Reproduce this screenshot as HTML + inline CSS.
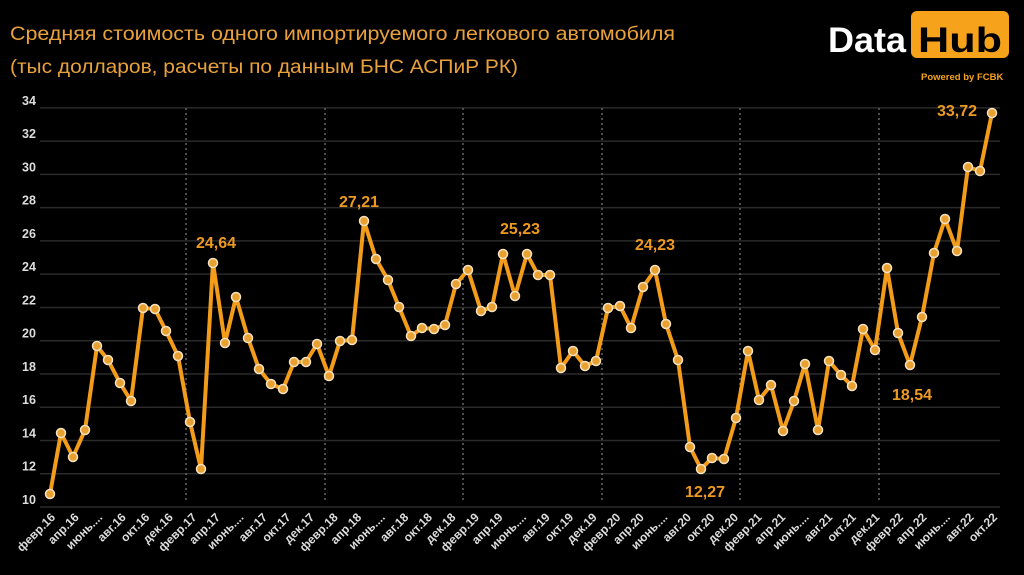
<!DOCTYPE html>
<html><head><meta charset="utf-8"><style>
body{margin:0;background:#000;width:1024px;height:570px;overflow:hidden;font-family:"Liberation Sans",sans-serif}
</style></head><body>
<svg width="1024" height="570" xmlns="http://www.w3.org/2000/svg" font-family="Liberation Sans, sans-serif">
<rect width="1024" height="570" fill="#000"/>
<text x="10" y="40" fill="#E9A23B" font-size="19.5" textLength="665" lengthAdjust="spacingAndGlyphs">Средняя стоимость одного импортируемого легкового автомобиля</text>
<text x="10" y="73" fill="#E9A23B" font-size="19.5" textLength="508" lengthAdjust="spacingAndGlyphs">(тыс долларов, расчеты по данным БНС АСПиР РК)</text>
<text x="828" y="52" fill="#fff" font-size="35" font-weight="bold" textLength="78" lengthAdjust="spacingAndGlyphs">Data</text>
<rect x="911" y="11" width="98" height="47" rx="6" fill="#F7A21B"/>
<text x="918" y="52" fill="#000" font-size="35" font-weight="bold" textLength="84" lengthAdjust="spacingAndGlyphs">Hub</text>
<text x="921" y="80" fill="#F7A21B" font-size="9.5" font-weight="bold">Powered by FCBK</text>
<g stroke="#2a2a2a" stroke-width="1.5" id="grid"></g>
<g id="dash" stroke="#666" stroke-width="1.5" stroke-dasharray="2,3"></g>
<g id="ylab" fill="#ddd" font-size="12.5" font-weight="bold"></g>
<g id="xlab" fill="#ddd" font-size="12" font-weight="bold"></g>
<polyline id="ln" fill="none" stroke="#F39C1A" stroke-width="4" stroke-linejoin="round"/>
<g id="pts"></g>
<g fill="#EE9A22" font-size="16" font-weight="bold">
<text x="196" y="248">24,64</text>
<text x="339" y="207">27,21</text>
<text x="500" y="234">25,23</text>
<text x="635" y="250">24,23</text>
<text x="685" y="497">12,27</text>
<text x="892" y="400">18,54</text>
<text x="937" y="116">33,72</text>
</g>
</svg>
<script>
var ns="http://www.w3.org/2000/svg";
function el(p,t,a,txt){var e=document.createElementNS(ns,t);for(var k in a)e.setAttribute(k,a[k]);if(txt)e.textContent=txt;document.getElementById(p).appendChild(e);}
for(var v=10;v<=34;v+=2){var y=507-(v-10)*16.63;el("grid","line",{x1:40,x2:1000,y1:y,y2:y});el("ylab","text",{x:22,y:y-3},String(v));}
[186,325,463,602,740,879].forEach(function(x){el("dash","line",{x1:x,x2:x,y1:108,y2:502});});
var P=[[50,494],[61,433],[73,457],[85,430],[97,346],[108,360],[120,383],[131,401],[143,308],[155,309],[166,331],[178,356],[190,422],[201,469],[213,263],[225,343],[236,297],[248,338],[259,369],[271,384],[283,389],[294,362],[306,362],[317,344],[329,376],[340,341],[352,340],[364,221],[376,259],[388,280],[399,307],[411,336],[422,328],[434,329],[445,325],[456,284],[468,270],[481,311],[492,307],[503,254],[515,296],[527,254],[538,275],[550,275],[561,368],[573,351],[585,366],[596,361],[608,308],[620,306],[631,328],[643,287],[655,270],[666,324],[678,360],[690,447],[701,469],[712,458],[724,459],[736,418],[748,351],[759,400],[771,385],[783,431],[794,401],[805,364],[818,430],[829,361],[841,375],[852,386],[863,329],[875,350],[887,268],[898,333],[910,365],[922,317],[934,253],[945,219],[957,251],[968,167],[980,171],[992,113]];
document.getElementById("ln").setAttribute("points",P.map(function(p){return p.join(",")}).join(" "));
P.forEach(function(p){el("pts","circle",{cx:p[0],cy:p[1],r:4.5,fill:"#E8A030",stroke:"#F6E2C0","stroke-width":1.5});});
var m=["февр.","апр.","июнь...","авг.","окт.","дек."];
for(var i=0;i<41;i++){var mo=i%6,yr=16+Math.floor(i/6);var t=(mo==2?"июнь....":m[mo]+yr);var x=50+i*23.55+6,y=518;el("xlab","text",{x:x,y:y,"text-anchor":"end",transform:"rotate(-45 "+x+" "+y+")"},t);}
</script>
</body></html>
